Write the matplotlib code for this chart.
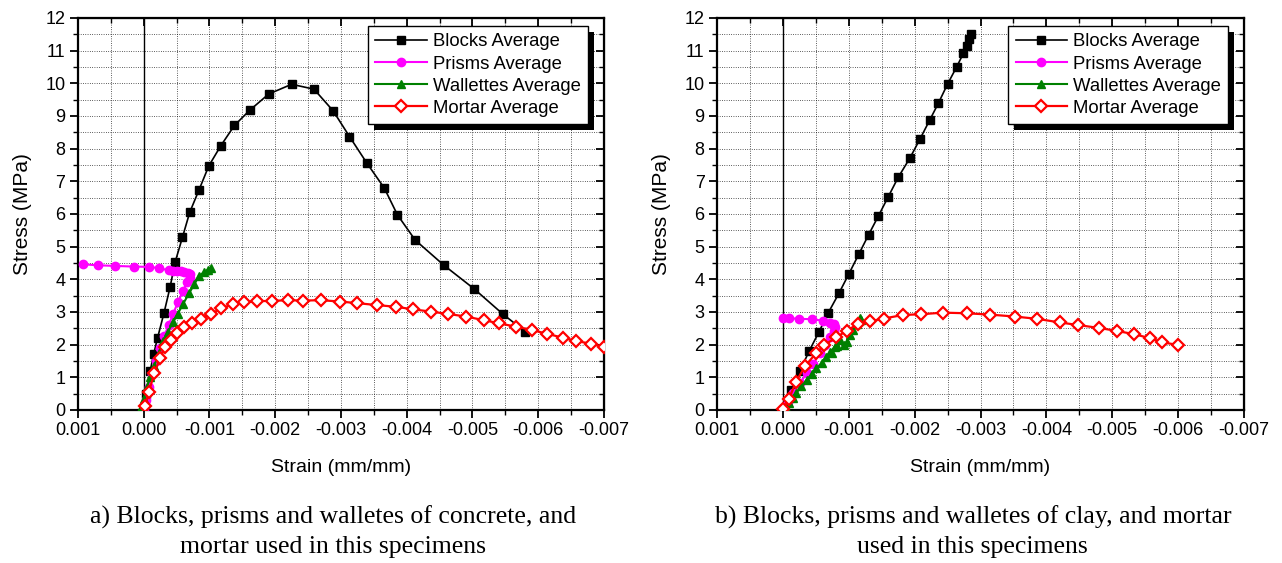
import matplotlib
matplotlib.use("Agg")
import matplotlib.pyplot as plt
from matplotlib.patches import Rectangle
from matplotlib.ticker import MultipleLocator, FuncFormatter

plt.rcParams["font.family"] = ["Liberation Sans", "DejaVu Sans"]

# ---- (a) concrete ----
a_blocks_x = [0.0, -0.00004, -0.0001, -0.00015, -0.00021, -0.00031, -0.0004, -0.00048,
              -0.00059, -0.0007, -0.00084, -0.00099, -0.00117, -0.00138, -0.00161,
              -0.0019, -0.00225, -0.00259, -0.00288, -0.00313, -0.00339, -0.00366,
              -0.00386, -0.00413, -0.00456, -0.00503, -0.00546, -0.0058]
a_blocks_y = [0.0, 0.5, 1.2, 1.7, 2.2, 2.98, 3.75, 4.54, 5.29, 6.05, 6.73, 7.47, 8.08,
              8.71, 9.17, 9.67, 9.97, 9.82, 9.16, 8.37, 7.57, 6.79, 5.97, 5.2, 4.44,
              3.7, 2.94, 2.4]
a_prisms_x = [0.0, -0.00003, -0.00008, -0.00013, -0.00019, -0.00025, -0.00031, -0.00038,
              -0.00045, -0.00052, -0.0006, -0.00066, -0.0007, -0.0007, -0.00067,
              -0.00062, -0.00056, -0.0005, -0.00044, -0.00039, -0.00024, -0.00008,
              0.00015, 0.00044, 0.0007, 0.00093]
a_prisms_y = [0.0, 0.3, 0.7, 1.1, 1.5, 1.9, 2.25, 2.6, 2.95, 3.3, 3.65, 3.92, 4.05, 4.15,
              4.2, 4.22, 4.24, 4.25, 4.26, 4.27, 4.34, 4.38, 4.39, 4.41, 4.43, 4.46]
a_wall_x = [0.00005, 0.0, -0.00005, -0.0001, -0.00016, -0.00023, -0.0003, -0.00037,
            -0.00045, -0.00052, -0.0006, -0.00069, -0.00077, -0.00084, -0.00092,
            -0.00098, -0.00103]
a_wall_y = [0.0, 0.35, 0.7, 1.0, 1.35, 1.73, 2.1, 2.4, 2.7, 2.95, 3.25, 3.57, 3.85,
            4.1, 4.22, 4.3, 4.34]
a_mortar_x = [-0.00002, -0.00008, -0.00016, -0.00025, -0.00033, -0.00042, -0.00051,
              -0.00062, -0.00074, -0.00087, -0.00102, -0.00118, -0.00136, -0.00153,
              -0.00173, -0.00195, -0.00219, -0.00243, -0.0027, -0.00298, -0.00325,
              -0.00355, -0.00383, -0.0041, -0.00437, -0.00463, -0.0049, -0.00517,
              -0.00541, -0.00566, -0.0059, -0.00614, -0.00638, -0.00658, -0.0068, -0.007]
a_mortar_y = [0.12, 0.56, 1.12, 1.58, 1.94, 2.14, 2.35, 2.53, 2.67, 2.8, 2.94, 3.11,
              3.24, 3.29, 3.33, 3.34, 3.36, 3.35, 3.36, 3.32, 3.27, 3.21, 3.16, 3.08,
              3.01, 2.94, 2.86, 2.75, 2.65, 2.55, 2.45, 2.33, 2.21, 2.11, 2.03, 1.92]

# ---- (b) clay ----
b_blocks_x = [0.0, -0.00012, -0.00026, -0.0004, -0.00055, -0.00069, -0.00085, -0.001,
              -0.00115, -0.0013, -0.00145, -0.0016, -0.00175, -0.00193, -0.00208,
              -0.00223, -0.00236, -0.0025, -0.00264, -0.00274, -0.00279, -0.00283,
              -0.00286]
b_blocks_y = [0.0, 0.61, 1.2, 1.81, 2.4, 2.98, 3.57, 4.16, 4.76, 5.36, 5.94, 6.53, 7.12,
              7.72, 8.29, 8.88, 9.39, 9.98, 10.51, 10.92, 11.15, 11.35, 11.5]
b_prisms_x = [0.0, -0.00008, -0.00016, -0.00026, -0.00036, -0.00046, -0.00056, -0.00064,
              -0.00071, -0.00077, -0.00079, -0.00077, -0.00072, -0.00061, -0.00044,
              -0.00025, -0.00009, 0.0]
b_prisms_y = [0.0, 0.25, 0.51, 0.82, 1.12, 1.42, 1.73, 1.98, 2.24, 2.42, 2.55, 2.63,
              2.67, 2.73, 2.78, 2.79, 2.81, 2.81]
b_wall_x = [-0.00005, -0.0001, -0.00015, -0.0002, -0.00028, -0.00036, -0.00044,
            -0.00051, -0.00059, -0.00066, -0.00072, -0.00079, -0.00074, -0.00082,
            -0.00087, -0.00092, -0.00097, -0.00102, -0.00107, -0.00112, -0.00117,
            -0.00119]
b_wall_y = [0.05, 0.2, 0.36, 0.51, 0.72, 0.92, 1.1, 1.27, 1.45, 1.63, 1.78, 1.94, 1.73,
            1.95, 2.14, 2.0, 2.08, 2.3, 2.45, 2.62, 2.81, 2.75]
b_mortar_x = [0.0, -0.00009, -0.0002, -0.00034, -0.0005, -0.00063, -0.00081, -0.00097,
              -0.00114, -0.00132, -0.00153, -0.00183, -0.0021, -0.00243, -0.00279,
              -0.00314, -0.00352, -0.00386, -0.0042, -0.00448, -0.0048, -0.00507,
              -0.00533, -0.00557, -0.00576, -0.006]
b_mortar_y = [0.02, 0.33, 0.87, 1.35, 1.73, 1.99, 2.22, 2.43, 2.63, 2.71, 2.8, 2.91,
              2.93, 2.98, 2.96, 2.92, 2.86, 2.79, 2.68, 2.6, 2.51, 2.42, 2.32, 2.2,
              2.07, 1.99]

labels = ["Blocks Average", "Prisms Average", "Wallettes Average", "Mortar Average"]
captions = ["a) Blocks, prisms and walletes of concrete, and\nmortar used in this specimens",
            "b) Blocks, prisms and walletes of clay, and mortar\nused in this specimens"]

fig = plt.figure(figsize=(12.82, 5.63), dpi=100)
ax_a = fig.add_axes([0.0608, 0.2718, 0.4103, 0.6963])
ax_b = fig.add_axes([0.5593, 0.2718, 0.4111, 0.6963])

panels = [
    (ax_a, (a_blocks_x, a_blocks_y), (a_prisms_x, a_prisms_y),
     (a_wall_x, a_wall_y), (a_mortar_x, a_mortar_y)),
    (ax_b, (b_blocks_x, b_blocks_y), (b_prisms_x, b_prisms_y),
     (b_wall_x, b_wall_y), (b_mortar_x, b_mortar_y)),
]

fmt = FuncFormatter(lambda v, p: f"{0.0 if abs(v) < 1e-9 else v:.3f}")

legs = []
for ax, blk, prs, wal, mor in panels:
    ax.axvline(0.0, color="k", lw=1.0, zorder=1.5)
    ax.plot(*blk, "-s", color="k", lw=1.2, ms=5.5, label=labels[0], zorder=3)
    ax.plot(*prs, "-o", color="#ff00ff", lw=1.5, ms=6, label=labels[1], zorder=3)
    ax.plot(*wal, "-^", color="#008000", lw=1.5, ms=6, label=labels[2], zorder=3)
    ax.plot(*mor, "-D", color="#ff0000", mfc="white", mec="#ff0000", mew=1.6,
            lw=1.6, ms=6.5, label=labels[3], zorder=3.5)
    ax.set_xlim(0.001, -0.007)
    ax.set_ylim(0, 12)
    ax.xaxis.set_major_locator(MultipleLocator(0.001))
    ax.xaxis.set_minor_locator(MultipleLocator(0.0005))
    ax.yaxis.set_major_locator(MultipleLocator(1))
    ax.yaxis.set_minor_locator(MultipleLocator(0.5))
    ax.xaxis.set_major_formatter(fmt)
    ax.grid(True, which="both", ls=(0, (1, 2)), color="k", lw=0.55)
    ax.set_axisbelow(True)
    for s in ax.spines.values():
        s.set_linewidth(1.6)
    ax.tick_params(which="major", direction="out", length=6, width=1.3, labelsize=13,
                   pad=3)
    ax.tick_params(which="minor", direction="out", length=3.5, width=1.0)
    sx = ax.secondary_xaxis("top")
    sx.xaxis.set_major_locator(MultipleLocator(0.001))
    sx.xaxis.set_minor_locator(MultipleLocator(0.0005))
    sx.tick_params(which="major", direction="in", length=6, width=1.3, labeltop=False)
    sx.tick_params(which="minor", direction="in", length=3.5, width=1.0)
    sy = ax.secondary_yaxis("right")
    sy.yaxis.set_major_locator(MultipleLocator(1))
    sy.yaxis.set_minor_locator(MultipleLocator(0.5))
    sy.tick_params(which="major", direction="in", length=6, width=1.3, labelright=False)
    sy.tick_params(which="minor", direction="in", length=3.5, width=1.0)
    ax.set_xlabel("Strain (mm/mm)", fontsize=14, labelpad=14)
    ax.set_ylabel("Stress (MPa)", fontsize=15)
    ax.yaxis.set_label_coords(-0.087, 0.5)
    leg = ax.legend(loc="upper right", bbox_to_anchor=(0.9696, 0.9796),
                    borderaxespad=0, fancybox=False, framealpha=1, edgecolor="k",
                    fontsize=13.3, handlelength=2.8, handletextpad=0.3,
                    labelspacing=0.28, borderpad=0.4)
    leg.get_frame().set_linewidth(1.0)
    legs.append((ax, leg))

for ax, cap in zip([ax_a, ax_b], captions):
    pos = ax.get_position()
    fig.text(pos.x0 + pos.width / 2 - 0.006, 0.056, cap, ha="center", va="center",
             fontsize=18.5, family=["Liberation Serif", "DejaVu Serif"], linespacing=1.4)

# legend drop shadow (solid black, offset down-right)
fig.canvas.draw()
for ax, leg in legs:
    bb = leg.get_window_extent()
    sh = Rectangle((bb.x0 + 6, bb.y0 - 6), bb.width, bb.height, transform=None,
                   facecolor="k", edgecolor="none", zorder=4.9)
    ax.add_artist(sh)
    leg.set_zorder(5)

fig.savefig("out.png", dpi=100)
